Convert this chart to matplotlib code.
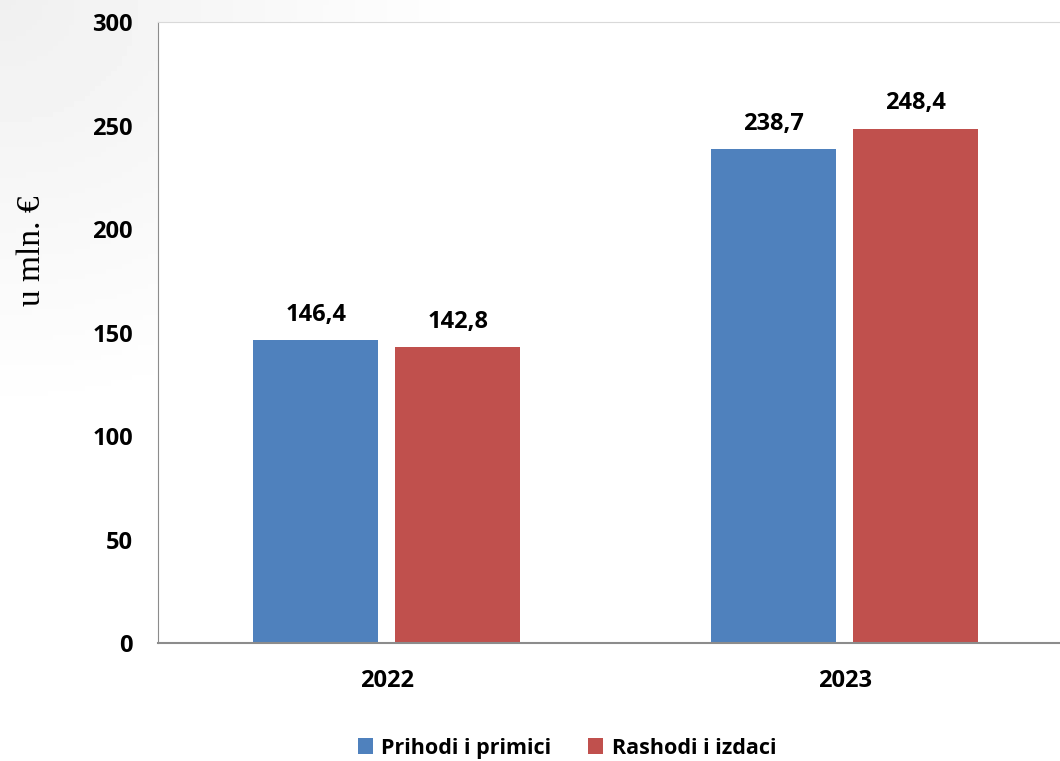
import matplotlib
matplotlib.use("Agg")
import matplotlib.pyplot as plt
import numpy as np

years = ["2022", "2023"]
prihodi = [146.4, 238.7]
rashodi = [142.8, 248.4]
series_names = ["Prihodi i primici", "Rashodi i izdaci"]
colors = ["#4f81bd", "#c0504d"]

plt.rcParams["font.family"] = ["Open Sans", "DejaVu Sans"]

fig = plt.figure(figsize=(10.6, 7.61), dpi=100)
fig.patch.set_facecolor("white")

# faint grey shading in the top-left corner of the slide background
bg = fig.add_axes([0, 0, 1, 1], zorder=-10)
gx, gy = np.meshgrid(np.linspace(0, 1, 200), np.linspace(0, 1, 150))
shade = np.clip(1 - np.hypot(gx * 2.2, gy * 1.8), 0, 1)
bg.imshow(1 - 0.06 * shade, cmap="gray", vmin=0, vmax=1, aspect="auto",
          extent=[0, 1, 0, 1], origin="upper")
bg.axis("off")

ax = fig.add_axes([0.149, 0.155, 0.864, 0.816])
ax.set_facecolor("white")

x = np.arange(len(years))
w = 0.273
off = 0.155
for vals, dx, col, name in [(prihodi, -off, colors[0], series_names[0]),
                            (rashodi, off, colors[1], series_names[1])]:
    bars = ax.bar(x + dx, vals, width=w, color=col, label=name, zorder=2)
    for b, v in zip(bars, vals):
        ax.text(b.get_x() + b.get_width() / 2, v + 6.5, f"{v:.1f}".replace(".", ","),
                ha="center", va="bottom", fontsize=17, fontweight="bold")

ax.set_xlim(-0.5, 1.5)
ax.set_ylim(0, 300)
ax.set_yticks(range(0, 301, 50))
ax.set_xticks(x)
ax.set_xticklabels(years)
ax.tick_params(length=0, labelsize=17)
ax.tick_params(axis="y", pad=18)
ax.tick_params(axis="x", pad=19)
for lab in ax.get_xticklabels() + ax.get_yticklabels():
    lab.set_fontweight("bold")

ax.spines["left"].set_color("#8c8c8c")
ax.spines["bottom"].set_color("#8c8c8c")
ax.spines["bottom"].set_linewidth(1.5)
ax.spines["top"].set_color("#d9d9d9")
ax.spines["right"].set_visible(False)

fig.text(0.03, 0.67, "u mln. €", rotation=90, ha="center", va="center",
         fontsize=24, family=["Liberation Serif", "DejaVu Serif"])

leg = fig.legend(loc="center", bbox_to_anchor=(0.535, 0.017), ncol=2, frameon=False,
                 prop={"size": 15.5, "weight": "bold"}, handlelength=0.7, handleheight=0.7,
                 columnspacing=1.7, handletextpad=0.4)

fig.savefig("out.png", dpi=100)
